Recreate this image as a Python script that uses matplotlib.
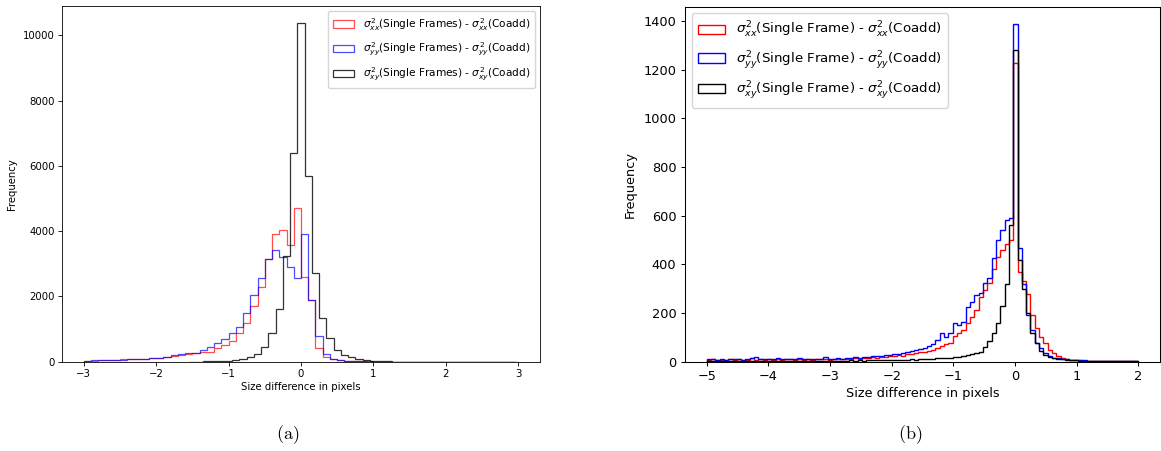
import numpy as np
import matplotlib
matplotlib.use("Agg")
import matplotlib.pyplot as plt

plt.rcParams['mathtext.fontset'] = 'dejavusans'

# ---- panel (a): 0.1 px bins, red/blue over [-3, 3], black offset by half a bin
edges_a = np.linspace(-3.0, 3.0, 61)
edges_a_xy = np.linspace(-1.55, 2.95, 46)

xx_a = [30, 35, 40, 45, 50, 70, 80, 85, 90, 100,
        112, 130, 175, 195, 236, 255, 290, 307, 410, 510,
        645, 870, 1180, 1710, 2280, 3150, 3900, 4050, 3580, 4720,
        2600, 1890, 411, 130, 70, 40, 20, 12, 8, 6,
        4, 3, 3, 2, 2, 1, 1, 0, 0, 0,
        0, 0, 0, 0, 0, 0, 0, 0, 0, 0]
yy_a = [30, 40, 45, 50, 55, 65, 75, 85, 95, 100,
        120, 150, 205, 226, 257, 276, 360, 460, 565, 690,
        890, 1074, 1485, 2050, 2570, 3150, 3420, 3220, 2900, 2560,
        3920, 1890, 788, 250, 90, 50, 30, 18, 12, 8,
        5, 4, 3, 3, 2, 2, 1, 1, 1, 1,
        0, 1, 0, 0, 1, 0, 0, 0, 0, 1]
xy_a = [3, 5, 8, 12, 20, 32, 52, 85, 155, 236,
        441, 871, 1617, 3240, 6390, 10380, 5700, 2710, 1330, 717,
        360, 205, 134, 83, 52, 30, 16, 9, 5, 3,
        2, 1, 1, 1, 0, 1, 0, 0, 1, 0,
        0, 0, 0, 0, 1]

# ---- panel (b): 100 bins over [-5, 2]
edges_b = np.linspace(-5.0, 2.0, 101)

xx_b = [8, 10, 7, 9, 6, 11, 8, 12, 7, 9, 15, 8, 10, 9, 11,
        9, 12, 8, 10, 11, 9, 13, 8, 10, 9, 12, 10, 11, 9,
        11, 12, 10, 13, 12, 15, 13, 16, 14, 18, 17, 20, 19, 22,
        24, 26, 25, 30, 32, 35, 38,
        41, 45, 50, 58, 66, 72, 78, 105, 118, 130,
        160, 185, 212, 265, 295, 323, 380, 430, 460, 485,
        500, 1227, 370, 330, 280, 190, 140, 103, 78, 50,
        35, 25, 15, 11, 8, 6,
        5, 4, 4, 3, 3, 2, 3, 2, 2, 1, 2, 1, 1, 1]
yy_b = [10, 12, 9, 11, 8, 13, 10, 12, 9, 11, 14, 19, 12, 10, 11,
        12, 14, 10, 13, 12, 11, 14, 10, 12, 11, 13, 12, 20, 11,
        13, 15, 12, 14, 16, 18, 17, 20, 19, 22, 24, 23, 27, 29,
        30, 33, 36, 40, 43, 48, 53,
        58, 65, 73, 89, 117, 100, 118, 158, 150, 164,
        226, 245, 275, 281, 322, 343, 425, 500, 541, 582,
        589, 1390, 466, 320, 190, 130, 75, 55, 35, 22,
        17, 14, 12, 10, 9, 7,
        6, 5, 4, 4, 3, 3, 2, 3, 2, 2, 1, 1, 1, 1]
xy_b = [3, 2, 4, 3, 2, 3, 4, 2, 3, 3, 2, 4, 3, 2, 3,
        3, 4, 2, 3, 3, 2, 4, 3, 3, 2, 3, 4, 3, 3,
        3, 4, 3, 4, 5, 4, 5, 4, 6, 5, 6, 7, 6, 7,
        8, 7, 9, 8, 10, 9, 11,
        12, 11, 13, 14, 15, 16, 17, 19, 20, 22,
        26, 30, 34, 40, 60, 85, 120, 160, 230, 320,
        560, 1280, 418, 300, 200, 120, 75, 45, 28, 20,
        15, 12, 10, 8, 6, 5,
        4, 4, 3, 3, 3, 2, 2, 2, 2, 1, 1, 1, 1, 1]

labels_a = [r'$\sigma^2_{xx}$(Single Frames) - $\sigma^2_{xx}$(Coadd)',
            r'$\sigma^2_{yy}$(Single Frames) - $\sigma^2_{yy}$(Coadd)',
            r'$\sigma^2_{xy}$(Single Frames) - $\sigma^2_{xy}$(Coadd)']
labels_b = [r'$\sigma^2_{xx}$(Single Frame) - $\sigma^2_{xx}$(Coadd)',
            r'$\sigma^2_{yy}$(Single Frame) - $\sigma^2_{yy}$(Coadd)',
            r'$\sigma^2_{xy}$(Single Frame) - $\sigma^2_{xy}$(Coadd)']


def centers(e):
    return 0.5 * (e[1:] + e[:-1])


fig = plt.figure(figsize=(11.61, 4.51), dpi=100)

# (a)
ax1 = fig.add_axes([62 / 1161, 89.3 / 451, 478 / 1161, 355.7 / 451])
fs = 7.3
for e, h, c, a, lab in [(edges_a, xx_a, 'red', 0.7, labels_a[0]),
                        (edges_a, yy_a, 'blue', 0.7, labels_a[1]),
                        (edges_a_xy, xy_a, 'black', 0.8, labels_a[2])]:
    ax1.hist(centers(e), bins=e, weights=h, histtype='step', color=c,
             alpha=a, linewidth=0.9, label=lab)
ax1.set_xlabel('Size difference in pixels', fontsize=fs, labelpad=2)
ax1.set_ylabel('Frequency', fontsize=fs, labelpad=4)
ax1.tick_params(labelsize=fs, length=2.6, width=0.6, pad=2.5)
for s in ax1.spines.values():
    s.set_linewidth(0.6)
ax1.legend(loc='upper right', fontsize=7.6, framealpha=0.8,
           handlelength=2.0, borderpad=0.45, labelspacing=0.75)

# (b)
ax2 = fig.add_axes([685 / 1161, 89.3 / 451, 475 / 1161, 355 / 451])
fs2 = 9.3
for e, h, c, lab in [(edges_b, xx_b, 'red', labels_b[0]),
                     (edges_b, yy_b, 'blue', labels_b[1]),
                     (edges_b, xy_b, 'black', labels_b[2])]:
    ax2.hist(centers(e), bins=e, weights=h, histtype='step', color=c,
             linewidth=1.0, label=lab)
ax2.set_xlabel('Size difference in pixels', fontsize=fs2, labelpad=3)
ax2.set_ylabel('Frequency', fontsize=fs2, labelpad=5)
ax2.tick_params(labelsize=fs2, length=3.2, width=0.75, pad=3)
for s in ax2.spines.values():
    s.set_linewidth(0.75)
ax2.legend(loc='upper left', fontsize=9.6, framealpha=0.8,
           handlelength=2.0, borderpad=0.5, labelspacing=0.65)

fig.text(288 / 1161, 1 - 435 / 451, r'$\mathrm{(a)}$', fontsize=13,
         ha='center', va='center', math_fontfamily='cm')
fig.text(910 / 1161, 1 - 435 / 451, r'$\mathrm{(b)}$', fontsize=13,
         ha='center', va='center', math_fontfamily='cm')

fig.savefig('out.png', dpi=100)
